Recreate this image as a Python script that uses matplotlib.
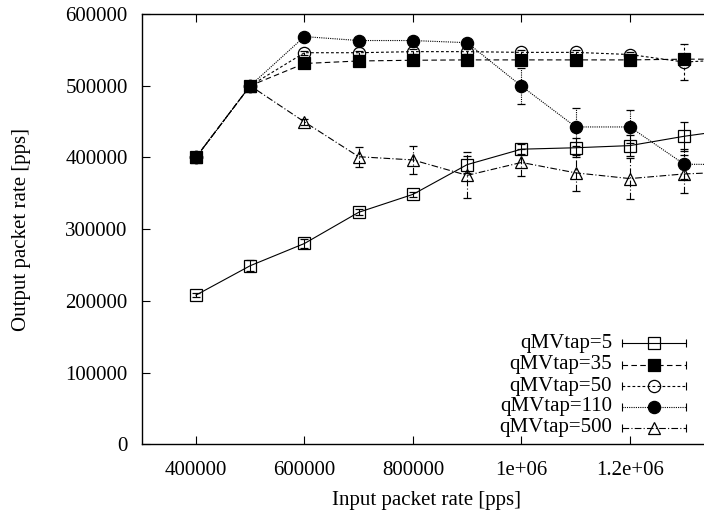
import numpy as np
import matplotlib.pyplot as plt

plt.rcParams['font.family'] = ['Liberation Serif', 'DejaVu Serif']
plt.rcParams['font.size'] = 15

# input rate (pps)
x = [400000, 500000, 600000, 700000, 800000, 900000, 1000000, 1100000, 1200000, 1300000, 1400000]

# output rate per qMVtap setting, with error
q5 = [208000, 249000, 280000, 323500, 348500, 390000, 411500, 413500, 416500, 429500, 440000]
q5_err = [3000, 8000, 6000, 4000, 3000, 12000, 7000, 13000, 15000, 20000, 15000]

q35 = [400000, 500000, 531000, 534500, 535500, 536000, 536000, 536000, 536000, 537000, 537000]
q35_err = [2000, 2000, 3000, 2000, 2000, 2000, 2000, 2000, 2000, 3000, 2000]

q50 = [400000, 500000, 546000, 546000, 547500, 547500, 546500, 546500, 543500, 533000, 537000]
q50_err = [2000, 2000, 3000, 3000, 3000, 3000, 3000, 3000, 3000, 25000, 5000]

q110 = [400000, 500000, 568500, 563000, 563000, 560000, 499500, 442500, 442500, 390500, 390000]
q110_err = [2000, 2000, 3000, 3000, 3000, 3000, 25000, 27000, 23000, 21000, 10000]

q500 = [400000, 500000, 449500, 401000, 396500, 375000, 393000, 378500, 370500, 377000, 380000]
q500_err = [2000, 2000, 4000, 14000, 19000, 32000, 19000, 25000, 29000, 27000, 20000]

labels = ['qMVtap=5', 'qMVtap=35', 'qMVtap=50', 'qMVtap=110', 'qMVtap=500']
values = [q5, q35, q50, q110, q500]
errors = [q5_err, q35_err, q50_err, q110_err, q500_err]

# gnuplot-like styles
styles = [
    dict(ls='-', marker='s', mfc='none', ms=9),
    dict(ls=(0, (5, 3)), marker='s', mfc='black', ms=9),
    dict(ls=(0, (2.5, 2)), marker='o', mfc='none', ms=8.8),
    dict(ls=(0, (1, 1)), marker='o', mfc='black', ms=8.8),
    dict(ls=(0, (6, 2, 1, 2)), marker='^', mfc='none', ms=8.5),
]

W, H = 704, 513
fig = plt.figure(figsize=(W / 100, H / 100), dpi=100)
left_px, top_px, bottom_px = 141.7, 14.0, 444.3
ax = fig.add_axes([left_px / W, 1 - bottom_px / H, 1 - left_px / W, (bottom_px - top_px) / H])

px_per_200k = 108.5
xmax = 300000 + (W - left_px) / px_per_200k * 200000
ax.set_xlim(300000, xmax)
ax.set_ylim(0, 600000)

for y, e, st in zip(values, errors, styles):
    line, caps, bars = ax.errorbar(x, y, yerr=e, color='black', lw=0.8, ls=st['ls'],
                                   marker=st['marker'], ms=st['ms'], mfc=st['mfc'],
                                   mec='black', mew=0.9, capsize=3, elinewidth=0.8)
    for b in bars:
        b.set_linestyle(st['ls'])

ax.set_xticks([400000, 600000, 800000, 1000000, 1200000])
ax.set_xticklabels(['400000', '600000', '800000', '1e+06', '1.2e+06'])
ax.set_yticks(np.arange(0, 600001, 100000))
ax.set_yticklabels([str(v) for v in range(0, 600001, 100000)])
ax.tick_params(direction='in', top=True, right=False, length=6, width=0.8)
ax.tick_params(axis='y', pad=10)
ax.tick_params(axis='x', pad=12)
ax.spines['right'].set_visible(False)
for s in ['left', 'top', 'bottom']:
    ax.spines[s].set_linewidth(1.0)

wpx = W - left_px
hpx = bottom_px - top_px
def axx(px):
    return (px - left_px) / wpx
def axy(py):
    return (bottom_px - py) / hpx

ax.set_xlabel('Input packet rate [pps]')
ax.xaxis.set_label_coords(axx(426.5), axy(500))
ax.xaxis.label.set_va('center')
ax.set_ylabel('Output packet rate [pps]')
ax.yaxis.set_label_coords(axx(21), 0.5)
ax.yaxis.label.set_va('center')

# legend drawn by hand, gnuplot style (line with end caps, marker in middle)
rows = [343.3, 365.0, 386.0, 406.7, 427.7]
for lab, st, ry in zip(labels, styles, rows):
    yy = axy(ry)
    ax.text(axx(612), yy, lab, transform=ax.transAxes, ha='right', va='center')
    ax.plot([axx(622), axx(686)], [yy, yy], color='black', lw=0.8, ls=st['ls'],
            transform=ax.transAxes, clip_on=False)
    ax.plot([axx(622), axx(686)], [yy, yy], ls='none', marker='|', ms=6, mew=0.8,
            color='black', transform=ax.transAxes, clip_on=False)
    ax.plot([axx(654)], [yy], ls='none', marker=st['marker'], ms=st['ms'], mfc=st['mfc'],
            mec='black', mew=0.9, transform=ax.transAxes, clip_on=False)

fig.savefig('out.png', dpi=100)
